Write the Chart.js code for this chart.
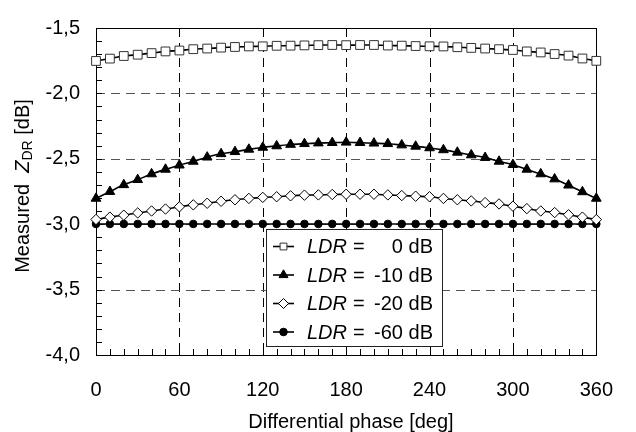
<!DOCTYPE html>
<html><head><meta charset="utf-8">
<script src="https://cdn.jsdelivr.net/npm/chart.js@4/dist/chart.umd.min.js"></script>
<style>html,body{margin:0;padding:0;background:#fff}#wrap{width:636px;height:432px;position:relative}</style>
</head><body><div id="wrap"><canvas id="c" width="636" height="432"></canvas></div>
<script>
const phase = [0,10,20,30,40,50,60,70,80,90,100,110,120,130,140,150,160,170,180,190,200,210,220,230,240,250,260,270,280,290,300,310,320,330,340,350,360];
const ldr0 = [-1.752,-1.734,-1.714,-1.704,-1.692,-1.679,-1.672,-1.662,-1.657,-1.650,-1.645,-1.641,-1.640,-1.636,-1.635,-1.633,-1.631,-1.630,-1.631,-1.630,-1.630,-1.634,-1.635,-1.638,-1.640,-1.641,-1.647,-1.652,-1.657,-1.662,-1.668,-1.679,-1.687,-1.699,-1.711,-1.733,-1.751];
const ldr10 = [-2.803,-2.751,-2.699,-2.660,-2.616,-2.581,-2.549,-2.520,-2.488,-2.462,-2.446,-2.428,-2.413,-2.402,-2.391,-2.385,-2.380,-2.377,-2.374,-2.377,-2.381,-2.385,-2.395,-2.405,-2.417,-2.432,-2.451,-2.471,-2.491,-2.520,-2.545,-2.581,-2.616,-2.655,-2.702,-2.753,-2.803];
const ldr20 = [-2.964,-2.946,-2.931,-2.914,-2.899,-2.884,-2.867,-2.852,-2.840,-2.825,-2.813,-2.803,-2.795,-2.790,-2.783,-2.778,-2.776,-2.773,-2.771,-2.771,-2.771,-2.776,-2.781,-2.786,-2.790,-2.803,-2.813,-2.822,-2.835,-2.845,-2.862,-2.881,-2.899,-2.911,-2.928,-2.946,-2.965];
const ldr60 = [-2.998,-2.998,-2.998,-2.998,-2.998,-2.998,-2.998,-2.998,-2.998,-2.998,-2.998,-2.998,-2.998,-2.998,-2.998,-2.998,-2.998,-2.998,-2.998,-2.998,-2.998,-2.998,-2.998,-2.998,-2.998,-2.998,-2.998,-2.998,-2.998,-2.998,-2.998,-2.998,-2.998,-2.998,-2.998,-2.998,-2.998];
const legendValues = ['0 dB', '-10 dB', '-20 dB', '-60 dB'];
const legendName = 'LDR';
const xTitle = 'Differential phase [deg]';
const yTitleParts = ['Measured  ', 'Z', 'DR', ' [dB]'];
const xGridValues = [60,120,180,240,300];
const yGridValues = [-2.0,-2.5,-3.0,-3.5];

const FAM = "'Liberation Sans', Arial, sans-serif";
const styles = [
  {pointStyle:'rect', r:6.2, fill:'#fff', stroke:'#333', lr:4.8},
  {pointStyle:'triangle', r:5.6, fill:'#000', stroke:'#000', lr:5.2},
  {pointStyle:'rectRot', r:5.2, fill:'#fff', stroke:'#000', lr:5},
  {pointStyle:'circle', r:3.8, fill:'#000', stroke:'#000', lr:3.8}
];
const seriesData = [ldr0, ldr10, ldr20, ldr60];

function mk(i){
  const s = styles[i];
  return {
    data: phase.map((p,k)=>({x:p, y:seriesData[i][k]})),
    borderColor:'#000', borderWidth:1.6, tension:0.3,
    pointStyle:s.pointStyle, pointRadius:s.r, pointBackgroundColor:s.fill,
    pointBorderColor:s.stroke, pointBorderWidth:1, clip:false, fill:false
  };
}

const custom = {
  id:'custom',
  beforeDatasetsDraw(chart){
    const {ctx, chartArea:a, scales:{x,y}} = chart;
    ctx.save();
    ctx.lineWidth = 1;
    ctx.setLineDash([9,6]);
    ctx.strokeStyle = '#000';
    for (const v of xGridValues){
      const px = Math.round(x.getPixelForValue(v))+0.5;
      ctx.beginPath(); ctx.moveTo(px,a.top); ctx.lineTo(px,a.bottom); ctx.stroke();
    }
    ctx.strokeStyle = '#555';
    for (const v of yGridValues){
      const py = Math.round(y.getPixelForValue(v))+0.5;
      ctx.beginPath(); ctx.moveTo(a.left,py); ctx.lineTo(a.right,py); ctx.stroke();
    }
    ctx.setLineDash([]);
    ctx.strokeStyle = '#000';
    for (let v=10; v<360; v+=10){
      const px = Math.round(x.getPixelForValue(v))+0.5;
      ctx.beginPath(); ctx.moveTo(px,a.bottom); ctx.lineTo(px,a.bottom-6); ctx.stroke();
    }
    for (let k=1; k<25; k++){
      const v = -4 + k*0.1;
      const py = Math.round(y.getPixelForValue(v))+0.5;
      ctx.beginPath(); ctx.moveTo(a.left,py); ctx.lineTo(a.left+6,py); ctx.stroke();
    }
    ctx.strokeRect(Math.round(a.left)+0.5, Math.round(a.top)+0.5, Math.round(a.right-a.left), Math.round(a.bottom-a.top));
    ctx.restore();
  },
  afterDraw(chart){
    const {ctx} = chart;
    ctx.save();
    const lx=266.5, ly=229.5, lw=176, lh=117;
    ctx.fillStyle='#fff'; ctx.fillRect(lx,ly,lw,lh);
    ctx.strokeStyle='#222'; ctx.lineWidth=1; ctx.strokeRect(lx,ly,lw,lh);
    const rows=[246.5,275,303.5,332];
    for (let i=0;i<4;i++){
      const yy=rows[i], s=styles[i];
      ctx.strokeStyle='#000'; ctx.lineWidth=1.6;
      ctx.beginPath(); ctx.moveTo(273,yy); ctx.lineTo(294,yy); ctx.stroke();
      ctx.fillStyle=s.fill; ctx.strokeStyle=s.stroke; ctx.lineWidth=1;
      Chart.helpers.drawPoint(ctx,{pointStyle:s.pointStyle, radius:s.lr, borderWidth:1},283.5,yy);
      ctx.fillStyle='#000'; ctx.textBaseline='middle';
      ctx.font='italic 20px '+FAM; ctx.textAlign='left';
      ctx.fillText(legendName,307,yy+1);
      ctx.font='20px '+FAM;
      ctx.fillText('=',353,yy+1);
      ctx.textAlign='right';
      ctx.fillText(legendValues[i],433,yy+1);
    }
    ctx.textAlign='center'; ctx.textBaseline='alphabetic'; ctx.fillStyle='#000';
    ctx.font='20px '+FAM;
    ctx.fillText(xTitle,351,428);
    ctx.translate(22,186); ctx.rotate(-Math.PI/2);
    const fonts=['20px '+FAM,'italic 20px '+FAM,'14px '+FAM,'20px '+FAM];
    const dys=[0,0,3,0];
    let tot=0; const ws=[];
    for (let i=0;i<4;i++){ ctx.font=fonts[i]; ws[i]=ctx.measureText(yTitleParts[i]).width; tot+=ws[i]; }
    let cx=-tot/2; ctx.textAlign='left';
    for (let i=0;i<4;i++){ ctx.font=fonts[i]; ctx.fillText(yTitleParts[i],cx,7+dys[i]); cx+=ws[i]; }
    ctx.restore();
  }
};

new Chart(document.getElementById('c'),{
  type:'line',
  data:{datasets:[mk(0),mk(1),mk(2),mk(3)]},
  options:{
    responsive:false, animation:false, devicePixelRatio:1,
    layout:{padding:{top:16,right:18,left:0,bottom:0}},
    plugins:{legend:{display:false},tooltip:{enabled:false},title:{display:false}},
    scales:{
      x:{type:'linear',min:0,max:360,
        ticks:{stepSize:60,padding:23,autoSkip:false,maxRotation:0,color:'#000',font:{family:FAM,size:20}},
        grid:{display:false,drawTicks:false},border:{display:false},
        afterFit(s){s.height=77;}},
      y:{type:'linear',min:-4,max:-1.5,
        ticks:{stepSize:0.5,padding:16,autoSkip:false,color:'#000',font:{family:FAM,size:20},
          callback:v=>Number(v).toFixed(1).replace('.',',')},
        grid:{display:false,drawTicks:false},border:{display:false},
        afterFit(s){s.width=96;}}
    }
  },
  plugins:[custom]
});
</script></body></html>
